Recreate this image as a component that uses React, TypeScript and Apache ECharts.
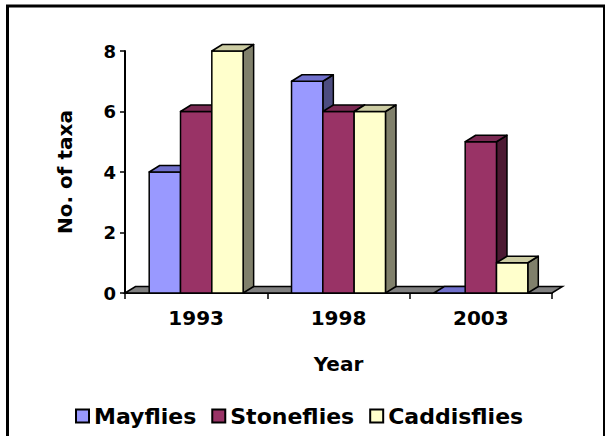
import React, { useEffect, useRef } from "react";
import * as echarts from "echarts";

const years = ["1993", "1998", "2003"];
const seriesNames = ["Mayflies", "Stoneflies", "Caddisflies"];
const mayflies = [4, 7, 0];
const stoneflies = [6, 6, 5];
const caddisflies = [8, 6, 1];
const yTicks = { min: 0, max: 8, interval: 2 };

const FONT = "'DejaVu Sans', Arial, sans-serif";
const palettes = [
  { front: "#9999FF", top: "#7070CC", side: "#4D4D80" },
  { front: "#993366", top: "#7A2952", side: "#4D1A33" },
  { front: "#FFFFCC", top: "#CCCCA3", side: "#80806B" },
];
const DX = 10.5;
const DY = 6.5;

function barSeries(name: string, values: number[], idx: number) {
  const pal = palettes[idx];
  return {
    type: "custom",
    name,
    z: 3,
    itemStyle: { color: pal.front, borderColor: "#000", borderWidth: 1.5 },
    data: values.map((v, i) => [i, v]),
    renderItem: (params: any, api: any) => {
      const ci = api.value(0);
      const v = api.value(1);
      const base = api.coord([ci, 0]);
      const top = api.coord([ci, v]);
      const band = api.size([1, 0])[0];
      const bw = band * 0.22;
      const x0 = base[0] - band * 0.33 + idx * bw;
      const yb = base[1];
      const yt = top[1];
      const stroke = { stroke: "#000", lineWidth: 1.5, lineJoin: "round" };
      const children: any[] = [];
      if (v > 0) {
        children.push({
          type: "polygon",
          shape: {
            points: [
              [x0 + bw, yt],
              [x0 + bw + DX, yt - DY],
              [x0 + bw + DX, yb - DY],
              [x0 + bw, yb],
            ],
          },
          style: { fill: pal.side, ...stroke },
        });
        children.push({
          type: "rect",
          shape: { x: x0, y: yt, width: bw, height: yb - yt },
          style: { fill: pal.front, ...stroke },
        });
      }
      children.push({
        type: "polygon",
        shape: {
          points: [
            [x0, yt],
            [x0 + DX, yt - DY],
            [x0 + bw + DX, yt - DY],
            [x0 + bw, yt],
          ],
        },
        style: { fill: pal.top, ...stroke },
      });
      return { type: "group", children };
    },
  };
}

export default function App() {
  const ref = useRef<HTMLDivElement>(null);
  useEffect(() => {
    document.body.style.margin = "0";
    const chart = echarts.init(ref.current!, null, { renderer: "svg" });
    chart.setOption({
      animation: false,
      backgroundColor: "#fff",
      textStyle: { fontFamily: FONT },
      grid: { left: 125, right: 53, top: 51, bottom: 143, containLabel: false },
      legend: {
        data: seriesNames,
        left: 70,
        top: 400,
        itemWidth: 13,
        itemHeight: 13,
        itemGap: 15,
        icon: "rect",
        itemStyle: { borderColor: "#000", borderWidth: 2 },
        textStyle: { fontFamily: FONT, fontWeight: "bold", fontSize: 22, color: "#000" },
      },
      xAxis: {
        type: "category",
        data: years,
        name: "Year",
        nameLocation: "middle",
        nameGap: 61,
        nameTextStyle: { fontFamily: FONT, fontWeight: "bold", fontSize: 20, color: "#000" },
        axisLine: { show: true, lineStyle: { color: "#000", width: 2 } },
        axisTick: { show: true, length: 6, lineStyle: { color: "#000", width: 1.5 } },
        axisLabel: { margin: 15, fontFamily: FONT, fontWeight: "bold", fontSize: 20, color: "#000" },
        splitLine: { show: false },
      },
      yAxis: {
        type: "value",
        min: yTicks.min,
        max: yTicks.max,
        interval: yTicks.interval,
        name: "No. of taxa",
        nameLocation: "middle",
        nameGap: 50,
        nameTextStyle: { fontFamily: FONT, fontWeight: "bold", fontSize: 20, color: "#000" },
        axisLine: { show: true, lineStyle: { color: "#000", width: 2 } },
        axisTick: { show: true, length: 5, lineStyle: { color: "#000", width: 1.5 } },
        axisLabel: { margin: 9, fontFamily: FONT, fontWeight: "bold", fontSize: 18, color: "#000" },
        splitLine: { show: false },
      },
      graphic: [
        {
          type: "rect",
          shape: { x: 7.5, y: 6, width: 597, height: 450 },
          style: { fill: "none", stroke: "#000", lineWidth: 3 },
          z: 10,
        },
      ],
      series: [
        {
          type: "custom",
          name: "floor",
          z: 2,
          data: [[0, 0]],
          renderItem: (params: any, api: any) => {
            const band = api.size([1, 0])[0];
            const p0 = api.coord([0, 0]);
            const p1 = api.coord([years.length - 1, 0]);
            const xl = p0[0] - band / 2;
            const xr = p1[0] + band / 2;
            const y = p0[1];
            return {
              type: "polygon",
              shape: {
                points: [
                  [xl, y],
                  [xl + DX, y - DY],
                  [xr + DX, y - DY],
                  [xr, y],
                ],
              },
              style: { fill: "#808080", stroke: "#000", lineWidth: 1.5 },
            };
          },
        },
        barSeries(seriesNames[0], mayflies, 0),
        barSeries(seriesNames[1], stoneflies, 1),
        barSeries(seriesNames[2], caddisflies, 2),
      ],
    });
    return () => chart.dispose();
  }, []);
  return <div ref={ref} style={{ width: 605, height: 436 }} />;
}
